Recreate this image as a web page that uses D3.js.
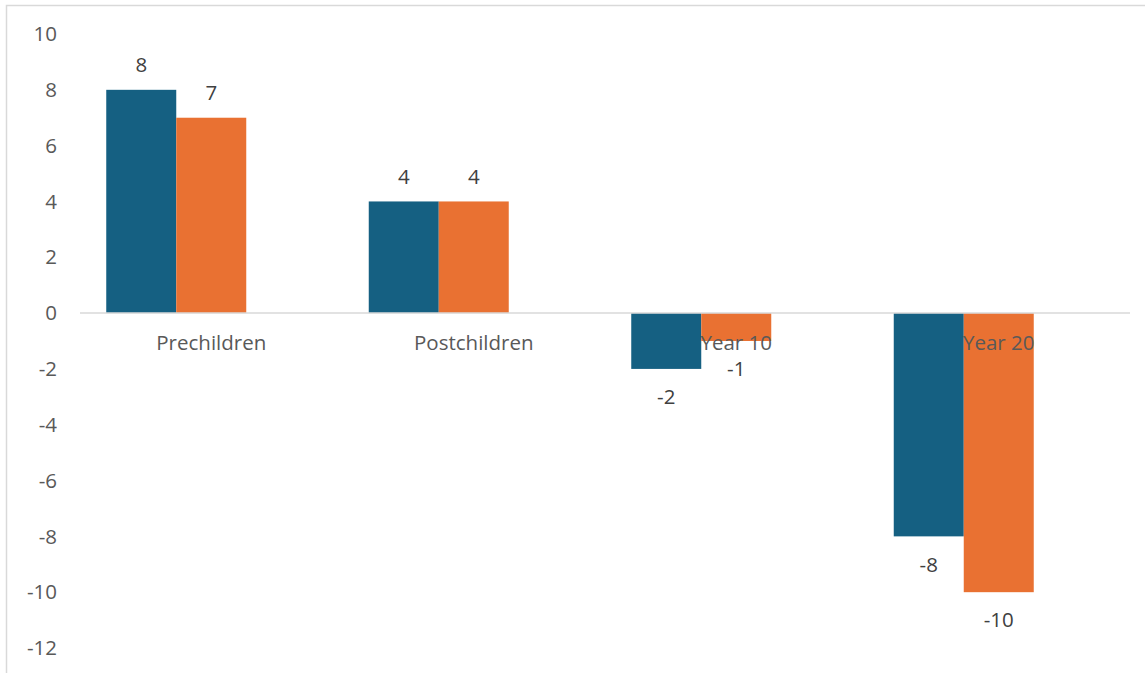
<!DOCTYPE html>
<html>
<head>
<meta charset="utf-8">
<script src="https://cdn.jsdelivr.net/npm/d3@7"></script>
<style>
    html, body { margin: 0; padding: 0; background: #fff; }
    svg text { font-family: "Open Sans", "Noto Sans", sans-serif; }
</style>
</head>
<body>
<div id="chart"></div>
<script>
// Chart data
const categories = ["Prechildren", "Postchildren", "Year 10", "Year 20"];
const seriesNames = ["Series 1", "Series 2", "Series 3"]; // third series is empty
const series1 = [8, 4, -2, -8];
const series2 = [7, 4, -1, -10];
const yTicks = [10, 8, 6, 4, 2, 0, -2, -4, -6, -8, -10, -12];

const seriesColors = ["#156082", "#E97132"];

const width = 1145;
const height = 673;
const margin = {top: 34, right: 15, bottom: 25, left: 80};
const fontSize = "20.5px";

const svg = d3.select("#chart")
    .append("svg")
    .attr("width", width)
    .attr("height", height);

// Chart border (cropped at right and bottom)
svg.append("rect")
    .attr("x", 6.5)
    .attr("y", 5.5)
    .attr("width", width + 10)
    .attr("height", height + 10)
    .attr("fill", "none")
    .attr("stroke", "#d9d9d9")
    .attr("stroke-width", 1.5);

const y = d3.scaleLinear()
    .domain([-12, 10])
    .range([648, 34]);

const x0 = d3.scaleBand()
    .domain(categories)
    .range([margin.left, width - margin.right])
    .paddingInner(0.2)
    .paddingOuter(0.1);

const x1 = d3.scaleBand()
    .domain(seriesNames)
    .range([0, x0.bandwidth()]);

const rows = categories.map((c, i) => ({cat: c, values: [series1[i], series2[i]]}));

// Y axis labels
svg.append("g")
    .selectAll("text")
    .data(yTicks)
    .join("text")
    .attr("x", 57)
    .attr("y", d => y(d))
    .attr("dy", "0.35em")
    .attr("text-anchor", "end")
    .attr("fill", "#595959")
    .style("font-size", fontSize)
    .text(d => d);

// Bars
const groups = svg.append("g")
    .selectAll("g")
    .data(rows)
    .join("g")
    .attr("transform", d => `translate(${x0(d.cat)},0)`);

groups.selectAll("rect")
    .data(d => d.values.map((v, i) => ({v, i})))
    .join("rect")
    .attr("x", d => x1(seriesNames[d.i]))
    .attr("width", x1.bandwidth())
    .attr("y", d => y(Math.max(0, d.v)))
    .attr("height", d => Math.abs(y(d.v) - y(0)))
    .attr("fill", d => seriesColors[d.i]);

// Zero line
svg.append("line")
    .attr("x1", margin.left)
    .attr("x2", width - margin.right)
    .attr("y1", y(0))
    .attr("y2", y(0))
    .attr("stroke", "#d9d9d9")
    .attr("stroke-width", 1.5);

// Category labels
svg.append("g")
    .selectAll("text")
    .data(categories)
    .join("text")
    .attr("x", d => x0(d) + x0.bandwidth() / 2)
    .attr("y", y(0) + 30)
    .attr("dy", "0.35em")
    .attr("text-anchor", "middle")
    .attr("fill", "#595959")
    .style("font-size", fontSize)
    .text(d => d);

// Data labels
groups.selectAll(".label")
    .data(d => d.values.map((v, i) => ({v, i})))
    .join("text")
    .attr("class", "label")
    .attr("x", d => x1(seriesNames[d.i]) + x1.bandwidth() / 2)
    .attr("y", d => d.v >= 0 ? y(d.v) - 25 : y(d.v) + 28)
    .attr("dy", "0.35em")
    .attr("text-anchor", "middle")
    .attr("fill", "#404040")
    .style("font-size", fontSize)
    .text(d => d.v);
</script>
</body>
</html>
